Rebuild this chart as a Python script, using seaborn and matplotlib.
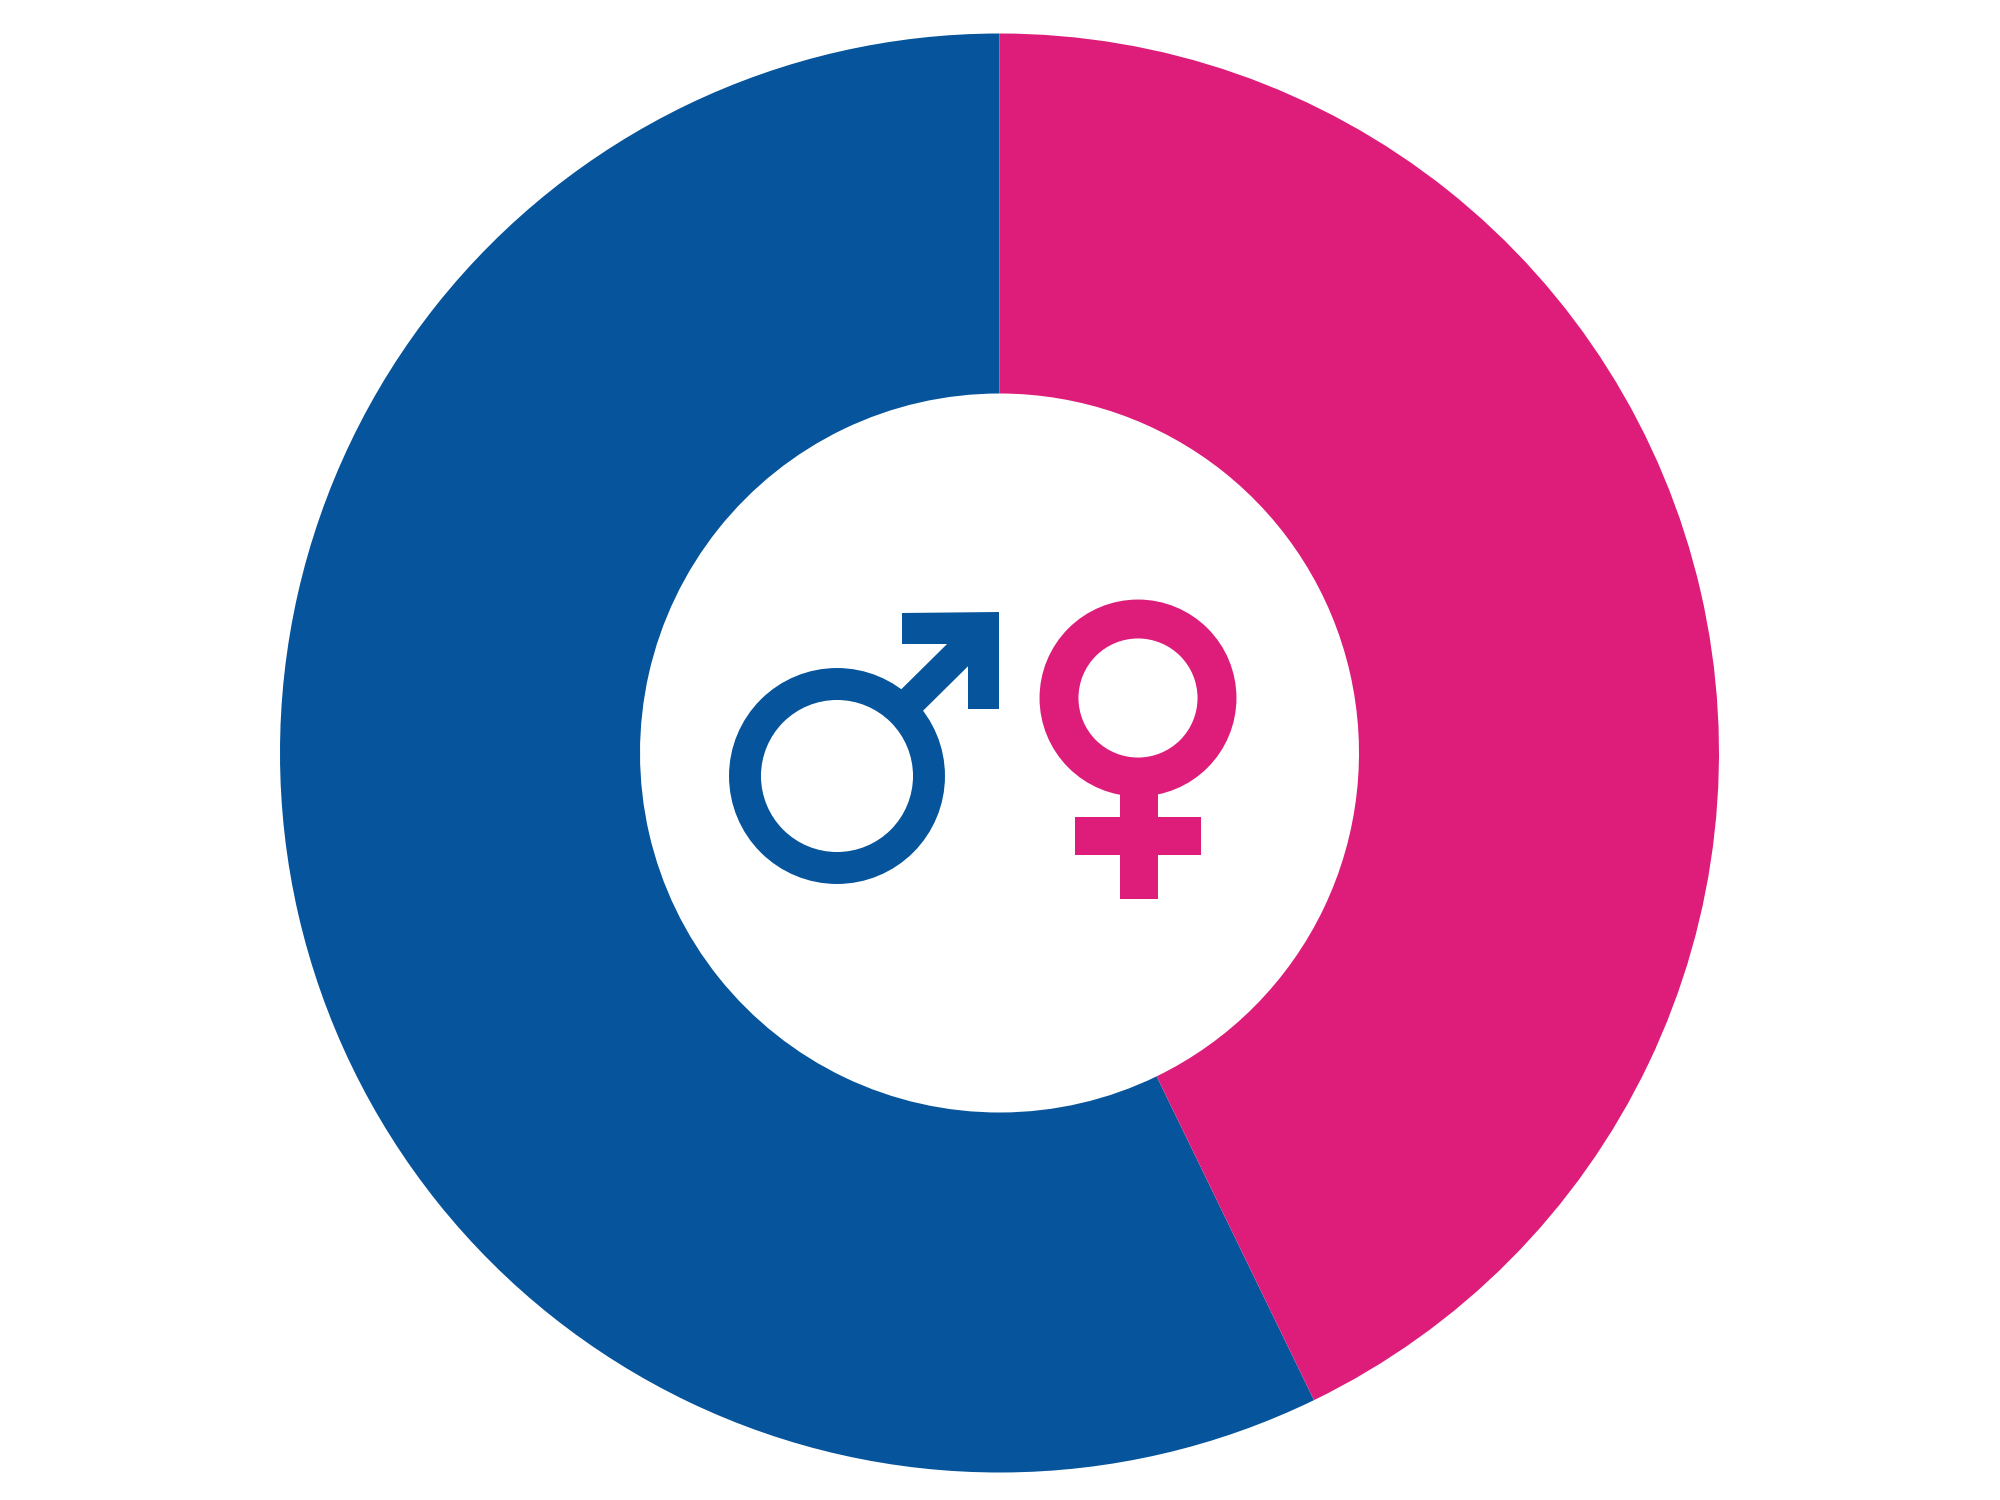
import matplotlib
matplotlib.use('Agg')
import matplotlib.pyplot as plt
import seaborn as sns
from matplotlib.patches import Circle, Rectangle, Polygon

groups = ['Men', 'Women']
shares = [57.2, 42.8]
colors = ['#06549b', '#de1d7a']

sns.set_theme(style='white')

# axes in reference pixels so the icons can be placed directly
fig = plt.figure(figsize=(20, 15), dpi=100)
ax = fig.add_axes([0, 0, 1, 1])

cx, cy = 999.5, 753
outer = 719.5
width = 360

# y axis is flipped, so counterclock=False runs anticlockwise on screen from the top
ax.pie(shares, colors=colors, center=(cx, cy), radius=outer, startangle=-90,
       counterclock=False, wedgeprops={'width': width, 'linewidth': 0}, frame=True)
ax.set_xlim(0, 2000)
ax.set_ylim(1500, 0)
ax.set_aspect('equal')
ax.axis('off')

# male sign
blue = colors[0]
ax.add_patch(Circle((837, 776), 92, fill=False, edgecolor=blue, linewidth=23))
ax.plot([898, 985], [714, 628], color=blue, linewidth=22, solid_capstyle='butt')
ax.add_patch(Polygon([(902, 613), (999, 612), (999, 709), (968, 709), (968, 644), (902, 644)], closed=True, color=blue, linewidth=0))

# female sign
pink = colors[1]
ax.add_patch(Circle((1138, 698), 79, fill=False, edgecolor=pink, linewidth=28))
ax.add_patch(Rectangle((1120, 785), 38, 114, color=pink, linewidth=0))
ax.add_patch(Rectangle((1075, 817), 126, 38, color=pink, linewidth=0))

fig.savefig('out.png', dpi=100)
